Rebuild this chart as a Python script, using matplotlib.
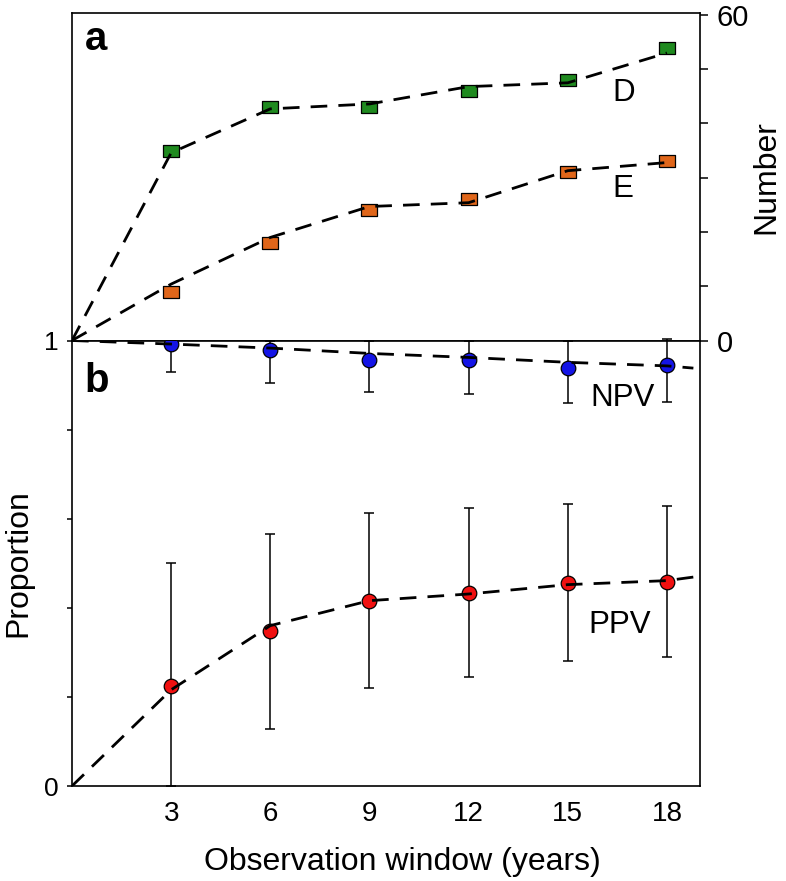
import matplotlib
matplotlib.use('Agg')
import matplotlib.pyplot as plt

plt.rcParams['font.family'] = ['Liberation Sans', 'DejaVu Sans']

# ---- data ----
years = [3, 6, 9, 12, 15, 18]
year_labels = ['3', '6', '9', '12', '15', '18']

D_counts = [35, 43, 43, 46, 48, 54]
E_counts = [9, 18, 24, 26, 31, 33]
top_fit_x = [0, 3, 6, 9, 12, 15, 18]
D_fit = [0, 34.6, 42.7, 43.6, 46.8, 47.5, 53.0]
E_fit = [0, 10.4, 19.0, 24.7, 25.4, 31.3, 32.8]

NPV = [0.992, 0.979, 0.956, 0.956, 0.938, 0.944]
NPV_low = [0.930, 0.904, 0.884, 0.879, 0.859, 0.863]
NPV_high = [1.0, 1.0, 0.998, 1.0, 1.0, 1.003]
NPV_fit_x = [0, 3, 6, 9, 12, 15, 18, 18.8]
NPV_fit = [1.0, 0.992, 0.983, 0.971, 0.962, 0.951, 0.943, 0.938]

PPV = [0.225, 0.347, 0.416, 0.433, 0.455, 0.458]
PPV_low = [0.0, 0.128, 0.219, 0.244, 0.281, 0.290]
PPV_high = [0.500, 0.566, 0.613, 0.625, 0.634, 0.629]
PPV_fit_x = [0, 3, 6, 9, 12, 15, 18, 19]
PPV_fit = [0, 0.216, 0.360, 0.416, 0.431, 0.452, 0.461, 0.471]

# ---- style ----
GREEN = '#1f8a1f'
ORANGE = '#e0661a'
BLUE = '#1414e6'
RED = '#f01010'
DASH = (0, (6.0, 4.0))
rect = [(-1, -0.7), (1, -0.7), (1, 0.7), (-1, 0.7), (-1, -0.7)]

W, H = 786, 881
fig = plt.figure(figsize=(W / 100, H / 100), dpi=100)
left = 72 / W
width = 628 / W
axa = fig.add_axes([left, 1 - 340.5 / H, width, 328 / H])
axb = fig.add_axes([left, 1 - 786 / H, width, 445.5 / H])

for ax in (axa, axb):
    for s in ax.spines.values():
        s.set_linewidth(1.2)
    ax.set_xlim(0, 19)

# ---- panel a ----
axa.set_ylim(0, 60.46)
axa.plot(top_fit_x, D_fit, color='black', lw=2.0, linestyle=DASH, zorder=4)
axa.plot(top_fit_x, E_fit, color='black', lw=2.0, linestyle=DASH, zorder=4)
axa.plot(years, D_counts, linestyle='none', marker=rect, markersize=11.5,
         markerfacecolor=GREEN, markeredgecolor='black', markeredgewidth=0.9, zorder=3)
axa.plot(years, E_counts, linestyle='none', marker=rect, markersize=11.5,
         markerfacecolor=ORANGE, markeredgecolor='black', markeredgewidth=0.9, zorder=3)
axa.yaxis.tick_right()
axa.yaxis.set_label_position('right')
axa.set_yticks([0, 60])
axa.set_yticks([10, 20, 30, 40, 50], minor=True)
axa.tick_params(axis='y', which='both', direction='out', length=6, width=1.1,
                labelsize=21, pad=6)
axa.tick_params(axis='x', which='both', bottom=False, labelbottom=False)
axa.set_xticks([])
axa.text(16.35, 44.1, 'D', fontsize=22.5, ha='left', va='baseline')
axa.text(16.35, 26.4, 'E', fontsize=22.5, ha='left', va='baseline')
axa.text(0.020, 0.886, 'a', transform=axa.transAxes, fontsize=29,
         fontweight='bold', ha='left', va='baseline')

# ---- panel b ----
axb.set_ylim(0, 1)
npv_err = [[v - lo for v, lo in zip(NPV, NPV_low)],
           [hi - v for v, hi in zip(NPV, NPV_high)]]
ppv_err = [[v - lo for v, lo in zip(PPV, PPV_low)],
           [hi - v for v, hi in zip(PPV, PPV_high)]]
for vals, err, col in ((NPV, npv_err, BLUE), (PPV, ppv_err, RED)):
    eb = axb.errorbar(years, vals, yerr=err, fmt='none', ecolor='black',
                      elinewidth=1.1, capsize=3.6, capthick=1.1, zorder=2)
    for art in eb.get_children():
        art.set_clip_on(False)
    axb.plot(years, vals, linestyle='none', marker='o', markersize=10.5,
             markerfacecolor=col, markeredgecolor='black', markeredgewidth=0.9,
             zorder=3)
axb.plot(NPV_fit_x, NPV_fit, color='black', lw=2.0, linestyle=DASH, zorder=4)
axb.plot(PPV_fit_x, PPV_fit, color='black', lw=2.0, linestyle=DASH, zorder=4)

axb.set_xticks(years)
axb.set_xticklabels(year_labels)
axb.tick_params(axis='x', which='both', length=0, labelsize=20, pad=11)
axb.set_yticks([0, 1])
axb.set_yticklabels(['0', '1'])
axb.set_yticks([0.2, 0.4, 0.6, 0.8], minor=True)
axb.tick_params(axis='y', which='both', direction='out', length=3.5, width=1.1,
                labelsize=19, pad=6, right=False)
axb.text(15.68, 0.853, 'NPV', fontsize=22.5, ha='left', va='baseline')
axb.text(15.62, 0.344, 'PPV', fontsize=22.5, ha='left', va='baseline')
axb.text(0.020, 0.884, 'b', transform=axb.transAxes, fontsize=29,
         fontweight='bold', ha='left', va='baseline')

# ---- axis titles ----
fig.text(18 / W, 1 - 563 / H, 'Proportion', rotation=90, fontsize=23,
         ha='center', va='center')
fig.text(766 / W, 1 - 177 / H, 'Number', rotation=90, fontsize=23,
         ha='center', va='center')
fig.text(402 / W, 1 - 862 / H, 'Observation window (years)', fontsize=23,
         ha='center', va='center')

fig.savefig('out.png', dpi=100)
